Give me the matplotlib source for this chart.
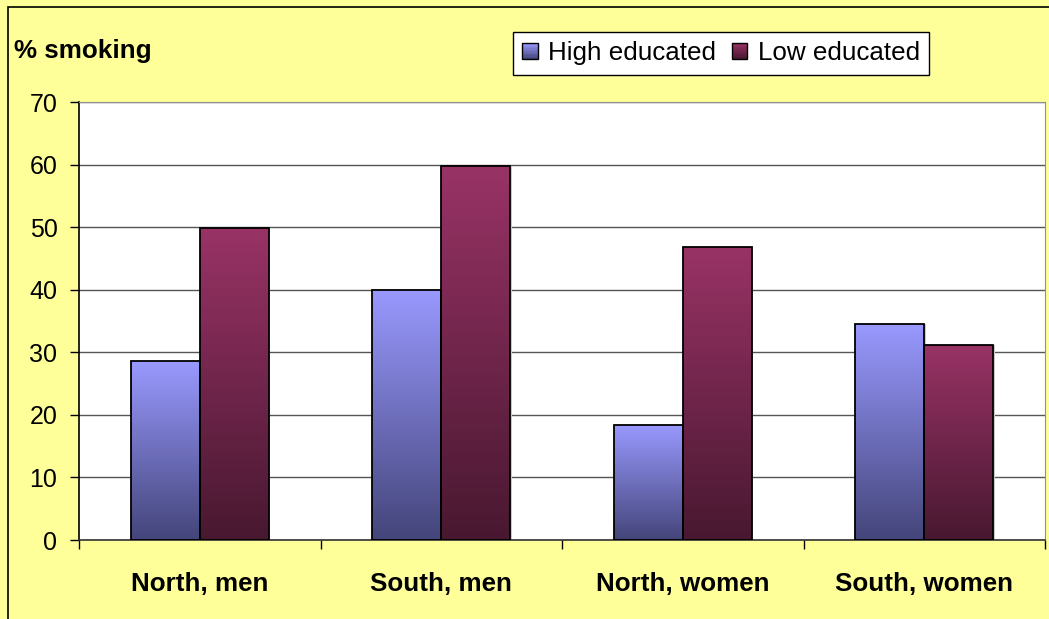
import numpy as np
import matplotlib
matplotlib.use("Agg")
import matplotlib.pyplot as plt
from matplotlib.patches import Rectangle
from matplotlib.legend_handler import HandlerBase
from matplotlib.colors import to_rgb

plt.rcParams['font.family'] = ['Liberation Sans', 'DejaVu Sans']

categories = ["North, men", "South, men", "North, women", "South, women"]
high_educated = [28.6, 40.0, 18.4, 34.5]
low_educated = [49.8, 59.8, 46.8, 31.2]
series_names = ["High educated", "Low educated"]
y_ticks = [0, 10, 20, 30, 40, 50, 60, 70]

# gradient colours (top -> bottom) for each series
grad_colors = [("#9999FF", "#44457A"), ("#993366", "#481830")]

W, H, DPI = 1049, 619, 100
fig = plt.figure(figsize=(W / DPI, H / DPI), dpi=DPI, facecolor="#FFFF99")

# chart area border (left and top edges visible)
fig.patches.append(Rectangle((8 / W, -0.1), 1.2, 1 - 7 / H + 0.1,
                             transform=fig.transFigure, fill=False,
                             edgecolor="black", linewidth=1.2))

ax = fig.add_axes([79 / W, 1 - 540 / H, (1045 - 79) / W, (540 - 102) / H])
ax.set_facecolor("white")
ax.set_ylim(0, 70)
ax.set_xlim(-0.5, len(categories) - 0.5)


def vgrad(top, bottom, n=256):
    t = np.linspace(0, 1, n)[:, None]
    c0, c1 = np.array(to_rgb(top)), np.array(to_rgb(bottom))
    return (c0 * (1 - t) + c1 * t).reshape(n, 1, 3)


width = 1 / 3.5
x = np.arange(len(categories))
for i, (vals, (ctop, cbot)) in enumerate(zip([high_educated, low_educated], grad_colors)):
    offs = (i - 0.5) * width
    bars = ax.bar(x + offs, vals, width, facecolor="none", edgecolor="black",
                  linewidth=1.3, zorder=4)
    for b in bars:
        x0, y0 = b.get_x(), b.get_y()
        h = b.get_height()
        im = ax.imshow(vgrad(ctop, cbot), extent=(x0, x0 + width, y0, y0 + h),
                       aspect="auto", origin="upper", zorder=3, interpolation="bilinear")
        im.set_clip_path(b)
        # soft shadow on the right side
        ax.add_patch(Rectangle((x0 + width, y0), 0.006, h, facecolor="#C8C8C8",
                               edgecolor="none", zorder=2))
ax.set_xlim(-0.5, len(categories) - 0.5)
ax.set_ylim(0, 70)

# gridlines
ax.set_yticks(y_ticks)
ax.set_yticklabels([str(v) for v in y_ticks], fontsize=18)
ax.yaxis.grid(True, color="#555555", linewidth=1.0, zorder=1)
ax.set_axisbelow(True)
ax.tick_params(axis="y", direction="out", length=6.5, width=1, pad=9, color="black")

# category boundary ticks + centred labels
ax.set_xticks(np.arange(-0.5, len(categories), 1.0))
ax.set_xticklabels([])
ax.set_xticks(x, minor=True)
ax.set_xticklabels(categories, minor=True, fontsize=18.7, fontweight="bold")
ax.tick_params(axis="x", which="major", direction="out", length=6.5, width=1, color="black")
ax.tick_params(axis="x", which="minor", length=0, pad=23)

ax.spines["left"].set_color("black")
ax.spines["left"].set_linewidth(1.2)
ax.spines["bottom"].set_color("#333333")
ax.spines["bottom"].set_linewidth(1.2)
ax.spines["top"].set_color("#909090")
ax.spines["right"].set_color("#909090")

fig.text(14 / W, 1 - 58 / H, "% smoking", fontsize=18.7, fontweight="bold",
         ha="left", va="baseline")


class GradientHandler(HandlerBase):
    def __init__(self, top, bottom):
        super().__init__()
        self.top, self.bottom = top, bottom

    def create_artists(self, legend, orig_handle, xdescent, ydescent, width,
                       height, fontsize, trans):
        n = 12
        c0, c1 = np.array(to_rgb(self.top)), np.array(to_rgb(self.bottom))
        arts = []
        for k in range(n):
            t = k / (n - 1)
            c = c0 * (1 - t) + c1 * t
            y = -ydescent + height * (1 - (k + 1) / n)
            arts.append(Rectangle((-xdescent, y), width, height / n, facecolor=c,
                                  edgecolor="none", transform=trans))
        arts.append(Rectangle((-xdescent, -ydescent), width, height, fill=False,
                              edgecolor="black", linewidth=1.0, transform=trans))
        return arts


h1 = Rectangle((0, 0), 1, 1)
h2 = Rectangle((0, 0), 1, 1)
leg = fig.legend([h1, h2], series_names, loc="upper left",
                 bbox_to_anchor=(513 / W, 1 - 32 / H), ncol=2, fontsize=18.7,
                 frameon=True, fancybox=False, edgecolor="black", framealpha=1,
                 borderpad=0.36, borderaxespad=0, handlelength=0.6, handleheight=0.6,
                 handletextpad=0.4, columnspacing=0.6,
                 handler_map={h1: GradientHandler(*grad_colors[0]),
                              h2: GradientHandler(*grad_colors[1])})
leg.get_frame().set_linewidth(1.0)

fig.savefig("out.png", dpi=DPI, facecolor=fig.get_facecolor())
